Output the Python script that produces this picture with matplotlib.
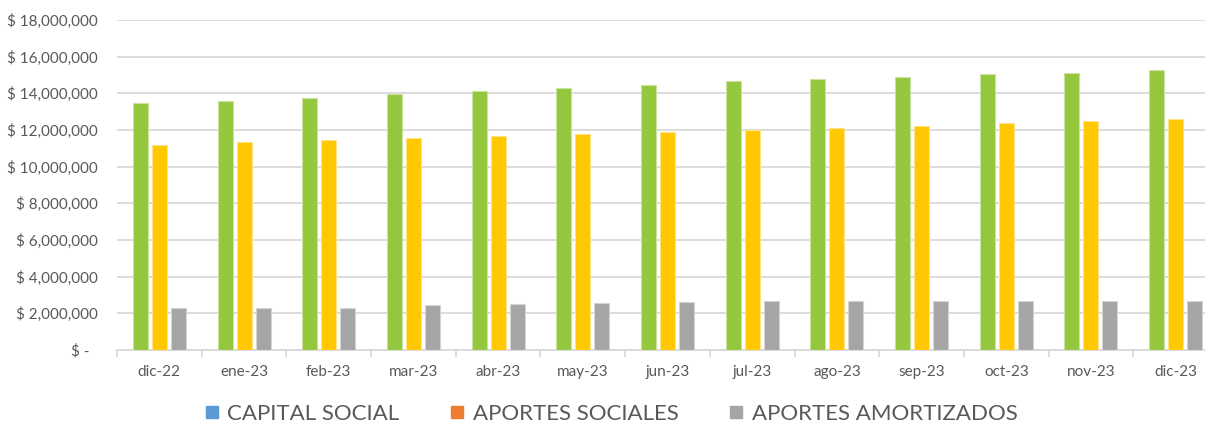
import matplotlib
matplotlib.use("Agg")
import matplotlib.pyplot as plt
from matplotlib.lines import Line2D
from matplotlib.ticker import FuncFormatter, MultipleLocator
import numpy as np

categories = ["dic-22", "ene-23", "feb-23", "mar-23", "abr-23", "may-23", "jun-23",
              "jul-23", "ago-23", "sep-23", "oct-23", "nov-23", "dic-23"]
capital_social = [13.45e6, 13.60e6, 13.73e6, 13.96e6, 14.13e6, 14.31e6, 14.48e6,
                  14.65e6, 14.78e6, 14.91e6, 15.04e6, 15.13e6, 15.25e6]
aportes_sociales = [11.16e6, 11.33e6, 11.44e6, 11.55e6, 11.65e6, 11.76e6, 11.87e6,
                    12.00e6, 12.11e6, 12.24e6, 12.38e6, 12.49e6, 12.60e6]
aportes_amortizados = [2.27e6, 2.27e6, 2.27e6, 2.44e6, 2.49e6, 2.55e6, 2.62e6,
                       2.65e6, 2.65e6, 2.65e6, 2.65e6, 2.65e6, 2.65e6]
series_names = ["CAPITAL SOCIAL", "APORTES SOCIALES", "APORTES AMORTIZADOS"]

bar_colors = ["#94C73D", "#FFC800", "#A5A5A5"]
edge_colors = ["#C9E3A0", "#FFE38A", "#D4D4D4"]
legend_colors = ["#5B9BD5", "#ED7D31", "#A5A5A5"]
text_color = "#595959"
grid_color = "#D9D9D9"

plt.rcParams['font.family'] = ['Lato', 'DejaVu Sans']

fig = plt.figure(figsize=(12.05, 4.25), dpi=100)
ax = fig.add_axes([117/1205, 75/425, 1101/1205, 330/425])

x = np.arange(len(categories))
width = 0.177
step = 0.224
for i, vals in enumerate([capital_social, aportes_sociales, aportes_amortizados]):
    ax.bar(x + (i - 1) * step, vals, width=width, color=bar_colors[i],
           edgecolor=edge_colors[i], linewidth=0.8, zorder=3)

ax.set_xlim(-0.5, len(categories) - 0.5)
ax.set_ylim(0, 18e6)
ax.yaxis.set_major_locator(MultipleLocator(2e6))

def fmt(v, pos):
    if v == 0:
        return "$ -  "
    return "$ {:,.0f}".format(v)

ax.yaxis.set_major_formatter(FuncFormatter(fmt))
ax.grid(axis='y', color=grid_color, linewidth=1.3, zorder=0)
ax.set_axisbelow(True)

for s in ['top', 'right', 'left']:
    ax.spines[s].set_visible(False)
ax.spines['bottom'].set_color(grid_color)
ax.spines['bottom'].set_linewidth(1.3)

ax.set_xticks(x)
ax.set_xticklabels(categories)
ax.set_xticks(np.arange(-0.5, len(categories), 1.0), minor=True)
ax.tick_params(axis='x', which='major', length=0, pad=11, labelsize=11, labelcolor=text_color)
ax.tick_params(axis='x', which='minor', length=5, width=1.3, color=grid_color)
ax.tick_params(axis='y', length=0, pad=14, labelsize=11, labelcolor=text_color)

handles = [Line2D([0], [0], marker='s', linestyle='none', markersize=8.5,
                  markerfacecolor=c, markeredgecolor=c) for c in legend_colors]
fig.legend(handles, series_names, loc='center', bbox_to_anchor=(610/1205, 1 - 414/425),
           ncol=3, frameon=False, fontsize=16, labelcolor=text_color,
           handletextpad=0.3, columnspacing=2.2, handlelength=0.8)

fig.savefig("out.png", dpi=100)
